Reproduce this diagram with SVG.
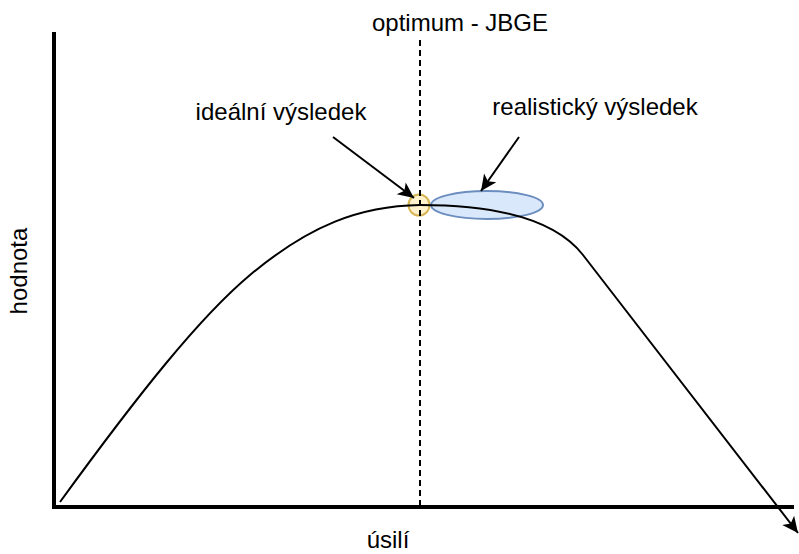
<svg xmlns="http://www.w3.org/2000/svg" width="799" height="554" viewBox="0 0 799 554">
<style>
text{font-family:"Liberation Sans",Arial,sans-serif;font-size:24px;fill:#000}
.ln{fill:none;stroke:#000;stroke-width:2}
</style>
<defs>
<marker id="ah" viewBox="-17 -9 18 18" refX="0" refY="0" markerWidth="18" markerHeight="18" markerUnits="userSpaceOnUse" orient="auto" overflow="visible">
<path d="M-16,-7.5 L0,0 L-16,7.5 L-12,0 Z" fill="#000"/>
</marker>
</defs>
<rect width="799" height="554" fill="#fff"/>
<g id="axes">
<line x1="54" y1="32" x2="54" y2="507" stroke="#000" stroke-width="4"/>
<line x1="52" y1="507" x2="794" y2="507" stroke="#000" stroke-width="4"/>
</g>
<g id="ideal">
<circle cx="419" cy="205" r="10.5" fill="#fff2cc" stroke="#d6b656" stroke-width="2"/>
</g>
<g id="realistic">
<ellipse cx="487" cy="205" rx="56" ry="14" fill="#dae8fc" stroke="#6c8ebf" stroke-width="2"/>
</g>
<g id="connectors">
<path class="ln" d="M60,502 C140,392 200,317 250,275 C310,225 360,206 420,205 C480,205 550,213 583,255 L798,533" marker-end="url(#ah)"/>
<line x1="420" y1="40" x2="420" y2="505" stroke="#000" stroke-width="2" stroke-dasharray="6,4"/>
<line class="ln" x1="333" y1="137" x2="414" y2="198" marker-end="url(#ah)"/>
<line class="ln" x1="519" y1="137" x2="481" y2="191" marker-end="url(#ah)"/>
</g>
<g id="labels">
<text x="460" y="31" text-anchor="middle">optimum - JBGE</text>
<text x="281" y="120" text-anchor="middle">ideální výsledek</text>
<text x="595" y="115" text-anchor="middle">realistický výsledek</text>
<text x="388" y="548" text-anchor="middle">úsilí</text>
<text transform="translate(27,271) rotate(-90)" text-anchor="middle">hodnota</text>
</g>
</svg>
